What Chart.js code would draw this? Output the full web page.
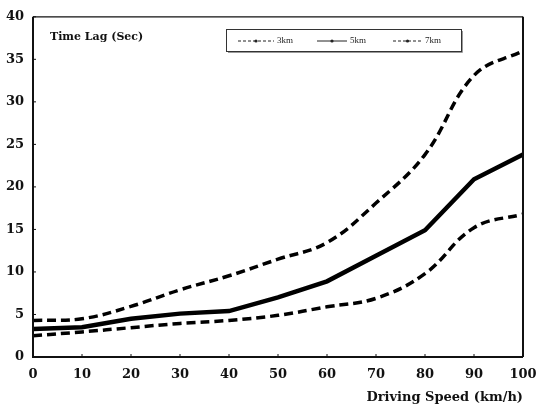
<!DOCTYPE html>
<html lang="en">
<head>
  <meta charset="UTF-8" />
  <title>Time Lag vs Driving Speed</title>
  <script src="https://cdn.jsdelivr.net/npm/chart.js"></script>
  <style>
    html, body {
      margin: 0;
      padding: 0;
      background: #fff;
    }
    #wrap {
      width: 543px;
      height: 405px;
      position: relative;
    }
  </style>
</head>
<body>
  <div id="wrap"><canvas id="lagChart" width="543" height="405"></canvas></div>

  <script>
    // x = driving speed (km/h), y = time lag (sec)
    const speeds = [0, 10, 20, 30, 40, 50, 60, 70, 80, 90, 100];
    const lag3km = [2.5, 2.95, 3.45, 3.95, 4.3, 4.9, 5.9, 6.9, 9.8, 15.2, 16.8];
    const lag5km = [3.3, 3.5, 4.5, 5.1, 5.4, 7.0, 8.9, 11.9, 14.9, 20.9, 23.8];
    const lag7km = [4.3, 4.5, 5.95, 7.9, 9.55, 11.5, 13.45, 18.1, 23.8, 33.1, 36.0];
    const seriesNames = ['3km', '5km', '7km'];

    const serif = "'DejaVu Serif', 'Liberation Serif', serif";
    const legendFont = "'Liberation Serif', serif";

    function toPoints(vals) {
      return speeds.map((s, i) => ({ x: s, y: vals[i] }));
    }

    // frame, inward ticks and the boxed legend
    const framePlugin = {
      id: 'frame',
      afterDraw(chart) {
        const ctx = chart.ctx;
        const a = chart.chartArea;
        const xs = chart.scales.x, ys = chart.scales.y;
        ctx.save();
        ctx.strokeStyle = '#111';
        ctx.lineWidth = 1.2;
        ctx.beginPath();
        ctx.moveTo(a.left, a.top);
        ctx.lineTo(a.right, a.top);
        ctx.stroke();
        ctx.lineWidth = 2;
        ctx.beginPath();
        ctx.moveTo(a.right, a.top);
        ctx.lineTo(a.right, a.bottom);
        ctx.moveTo(a.left, a.top);
        ctx.lineTo(a.left, a.bottom);
        ctx.lineTo(a.right, a.bottom);
        ctx.stroke();

        ctx.lineWidth = 1;
        ctx.beginPath();
        xs.ticks.forEach(t => {
          const px = xs.getPixelForValue(t.value);
          ctx.moveTo(px, a.bottom);
          ctx.lineTo(px, a.bottom - 3);
        });
        ys.ticks.forEach(t => {
          const py = ys.getPixelForValue(t.value);
          ctx.moveTo(a.left, py);
          ctx.lineTo(a.left + 3, py);
        });
        ctx.stroke();

        // "Time Lag (Sec)" label inside plot
        ctx.fillStyle = '#111';
        ctx.font = 'bold 11px ' + serif;
        ctx.textBaseline = 'middle';
        ctx.textAlign = 'left';
        ctx.fillText('Time Lag (Sec)', 50, 37);

        // legend box
        const lx = 226, ly = 29, lw = 235, lh = 22;
        ctx.strokeStyle = '#333';
        ctx.lineWidth = 1;
        ctx.strokeRect(lx + 0.5, ly + 0.5, lw, lh);
        ctx.strokeStyle = '#999';
        ctx.beginPath();
        ctx.moveTo(lx + 2, ly + lh + 1.5);
        ctx.lineTo(lx + lw + 1.5, ly + lh + 1.5);
        ctx.lineTo(lx + lw + 1.5, ly + 2);
        ctx.stroke();

        const items = [
          { x0: 238, x1: 274, dash: [3, 2] },
          { x0: 317, x1: 347, dash: [] },
          { x0: 393, x1: 422, dash: [3, 2] }
        ];
        ctx.font = '9px ' + legendFont;
        const my = ly + lh / 2 + 1;
        items.forEach((it, i) => {
          ctx.strokeStyle = '#222';
          ctx.lineWidth = 1;
          ctx.setLineDash(it.dash);
          ctx.beginPath();
          ctx.moveTo(it.x0, my);
          ctx.lineTo(it.x1, my);
          ctx.stroke();
          ctx.setLineDash([]);
          ctx.fillStyle = '#222';
          ctx.beginPath();
          ctx.arc((it.x0 + it.x1) / 2, my, 1.6, 0, Math.PI * 2);
          ctx.fill();
          ctx.fillText(seriesNames[i], it.x1 + 3, my);
        });
        ctx.restore();
      }
    };

    new Chart(document.getElementById('lagChart'), {
      type: 'line',
      data: {
        datasets: [
          {
            label: seriesNames[0],
            data: toPoints(lag3km),
            borderColor: '#000',
            borderWidth: 3.5,
            borderDash: [9, 5],
            tension: 0.4,
            pointRadius: 0
          },
          {
            label: seriesNames[1],
            data: toPoints(lag5km),
            borderColor: '#000',
            borderWidth: 4.5,
            tension: 0,
            pointRadius: 0
          },
          {
            label: seriesNames[2],
            data: toPoints(lag7km),
            borderColor: '#000',
            borderWidth: 3.5,
            borderDash: [9, 5],
            tension: 0.4,
            pointRadius: 0
          }
        ]
      },
      options: {
        responsive: false,
        animation: false,
        layout: { padding: { left: 0, right: 0, top: 14, bottom: 0 } },
        plugins: {
          legend: { display: false },
          tooltip: { enabled: false }
        },
        scales: {
          x: {
            type: 'linear',
            min: 0,
            max: 100,
            grid: { display: false, drawTicks: false },
            border: { display: false },
            ticks: {
              stepSize: 10,
              padding: 10,
              color: '#111',
              font: { family: serif, size: 13, weight: 'bold' }
            },
            title: {
              display: true,
              text: 'Driving Speed (km/h)',
              align: 'end',
              color: '#111',
              padding: { top: 0, bottom: 0 },
              font: { family: serif, size: 13, weight: 'bold' }
            },
            afterFit(scale) {
              scale.height = 48;
              scale.paddingRight = 20;
            }
          },
          y: {
            min: 0,
            max: 40,
            grid: { display: false, drawTicks: false },
            border: { display: false },
            ticks: {
              stepSize: 5,
              padding: 9,
              color: '#111',
              font: { family: serif, size: 13, weight: 'bold' }
            },
            afterFit(scale) { scale.width = 33; }
          }
        }
      },
      plugins: [framePlugin]
    });
  </script>
</body>
</html>
